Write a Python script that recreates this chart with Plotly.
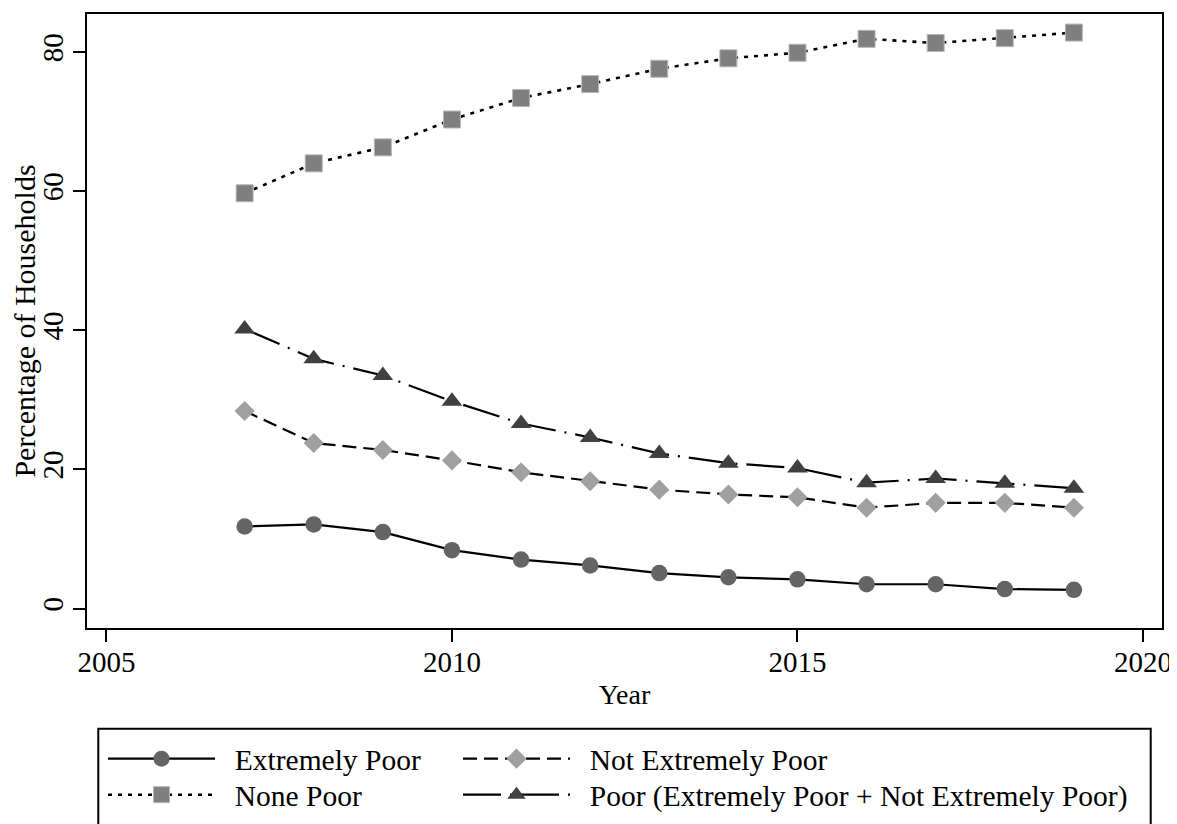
import plotly.graph_objects as go

years = list(range(2007, 2020))
extremely_poor = [11.8, 12.1, 11.0, 8.4, 7.05, 6.2, 5.1, 4.5, 4.2, 3.5, 3.5, 2.8, 2.7]
not_extremely_poor = [28.4, 23.8, 22.8, 21.3, 19.6, 18.3, 17.1, 16.4, 16.0, 14.5, 15.2, 15.2, 14.5]
none_poor = [59.7, 64.0, 66.3, 70.3, 73.4, 75.4, 77.6, 79.1, 79.9, 81.9, 81.3, 82.0, 82.8]
poor = [40.2, 35.9, 33.5, 29.8, 26.6, 24.6, 22.3, 20.9, 20.2, 18.1, 18.7, 18.0, 17.3]

x_ticks = [2005, 2010, 2015, 2020]
y_ticks = [0, 20, 40, 60, 80]

FONT = "Liberation Serif"
NB = "\u00a0\u00a0"

fig = go.Figure()
fig.add_trace(go.Scatter(
    x=years, y=extremely_poor, name=NB + "Extremely Poor", mode="lines+markers",
    line=dict(color="black", width=2.2, dash="solid"),
    marker=dict(symbol="circle", size=16.5, color="#646464", line=dict(width=0)),
    legend="legend", legendwidth=233))
fig.add_trace(go.Scatter(
    x=years, y=not_extremely_poor, name=NB + "Not Extremely Poor", mode="lines+markers",
    line=dict(color="black", width=2.2, dash="14px,7px"),
    marker=dict(symbol="diamond", size=15.5, color="#a0a0a0", line=dict(width=0)),
    legend="legend", legendwidth=560))
fig.add_trace(go.Scatter(
    x=years, y=none_poor, name=NB + "None Poor", mode="lines+markers",
    line=dict(color="black", width=2.6, dash="4px,6px"),
    marker=dict(symbol="square", size=17, color="#7f7f7f", line=dict(width=1, color="#b8b8b8")),
    legend="legend2", legendwidth=233))
fig.add_trace(go.Scatter(
    x=years, y=poor, name=NB + "Poor (Extremely Poor + Not Extremely Poor)", mode="lines+markers",
    line=dict(color="black", width=2.2, dash="38px,9px,2px,9px"),
    marker=dict(symbol="triangle-up", size=18, color="#404040", line=dict(width=0)),
    legend="legend2", legendwidth=560))

W, H = 1177, 824
OFF = 8  # page offset of the figure inside the browser body
L, R, T, B = 87 - OFF, 15 + OFF, 14 - OFF, 196 + OFF
pw = W - L - R
ph = H - T - B

def px_to_paper_x(px):
    return (px - OFF - L) / pw

def px_to_paper_y(py):
    return (H - B - (py - OFF)) / ph

legend_common = dict(
    xanchor="left", yanchor="top", orientation="h", itemwidth=107,
    xref="container", yref="container",
    bgcolor="rgba(0,0,0,0)", borderwidth=0,
    font=dict(family=FONT, size=29.5, color="black"), itemsizing="trace",
)

fig.update_layout(
    width=W, height=H,
    margin=dict(l=L, r=R, t=T, b=B, autoexpand=False),
    paper_bgcolor="white", plot_bgcolor="white",
    font=dict(family=FONT, size=28, color="black"),
    xaxis=dict(
        range=[2004.719, 2020.275], tickvals=x_ticks, ticktext=[str(v) for v in x_ticks],
        ticks="outside", ticklen=12, tickwidth=2, tickcolor="black",
        showline=True, linewidth=2, linecolor="black", mirror=True,
        showgrid=False, zeroline=False, automargin=False,
        title=dict(text="Year", standoff=8, font=dict(size=28)),
        tickfont=dict(size=29), ticklabelstandoff=-5,
    ),
    yaxis=dict(
        range=[-2.79, 85.47], tickvals=y_ticks, ticktext=[str(v) for v in y_ticks],
        ticks="outside", ticklen=12, tickwidth=2, tickcolor="black",
        showline=True, linewidth=2, linecolor="black", mirror=True,
        showgrid=False, zeroline=False, tickangle=-90, automargin=False,
        title=dict(text="Percentage of Households", standoff=0, font=dict(size=30)),
        tickfont=dict(size=29), ticklabelstandoff=-2,
    ),
    legend=dict(x=95 / W, y=1 - 725 / H, **legend_common),
    legend2=dict(x=95 / W, y=1 - 761 / H, **legend_common),
    shapes=[dict(
        type="rect", xref="paper", yref="paper",
        x0=px_to_paper_x(98.3), x1=px_to_paper_x(1150.7),
        y0=px_to_paper_y(728.7), y1=px_to_paper_y(850),
        line=dict(color="black", width=2), fillcolor="rgba(0,0,0,0)", layer="above",
    )],
)

fig.write_html("out.html")
